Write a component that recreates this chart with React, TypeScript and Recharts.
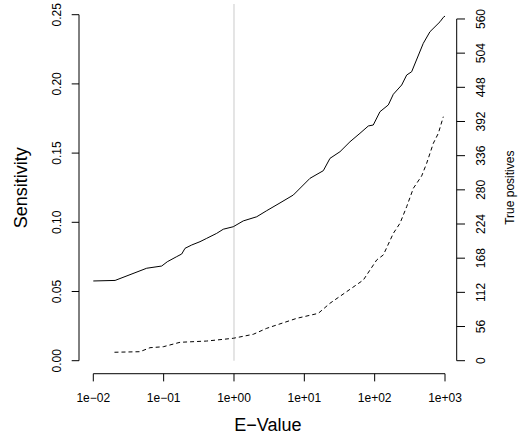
import React from 'react';
import { ComposedChart, Line, XAxis, YAxis, ReferenceLine, Label } from 'recharts';

// ---- data ----
const eValueTicks = [0.01, 0.1, 1, 10, 100, 1000];
const eValueTickLabels = ['1e\u221202', '1e\u221201', '1e+00', '1e+01', '1e+02', '1e+03'];
const sensitivityTicks = [0, 0.05, 0.1, 0.15, 0.2, 0.25];
const sensitivityTickLabels = ['0.00', '0.05', '0.10', '0.15', '0.20', '0.25'];
const truePositiveTicks = [0, 56, 112, 168, 224, 280, 336, 392, 448, 504, 560];

const solidEValue = [
  0.01, 0.0204, 0.0574, 0.0938, 0.1127, 0.1535, 0.1807, 0.2014, 0.2506, 0.3289,
  0.4093, 0.5675, 0.7047, 0.977, 1.355, 2.104, 2.917, 4.508, 6.966, 12.05,
  18.62, 23.17, 32.14, 44.57, 61.8, 81.28, 95.5, 118.9, 156.3, 184.1,
  242.1, 285.1, 335.7, 490.9, 610.9, 849.2, 946.2, 1000,
];
const solidSensitivity = [
  0.0576, 0.058, 0.0668, 0.0684, 0.0715, 0.0752, 0.0771, 0.0812, 0.0836, 0.086,
  0.0884, 0.092, 0.095, 0.0968, 0.101, 0.104, 0.1084, 0.114, 0.1197, 0.1318,
  0.1373, 0.1462, 0.151, 0.1582, 0.1643, 0.1696, 0.1703, 0.1799, 0.1848, 0.1925,
  0.1992, 0.2064, 0.2088, 0.2293, 0.2377, 0.2449, 0.2481, 0.249,
];

const dashedEValue = [
  0.02, 0.0461, 0.064, 0.0989, 0.171, 0.409, 0.977, 1.884, 2.917, 4.046,
  7.78, 15.78, 23.17, 40.0, 69.0, 106.9, 132.7, 184.1, 229.1, 285.1,
  354.8, 465.6, 548.3, 682.3, 803.5, 946.2,
];
const dashedSensitivity = [
  0.0061, 0.0065, 0.0094, 0.0101, 0.0133, 0.0142, 0.0162, 0.0191, 0.0234, 0.0258,
  0.0306, 0.0342, 0.0415, 0.0499, 0.0583, 0.0728, 0.0764, 0.092, 0.0993, 0.1113,
  0.1246, 0.1335, 0.1426, 0.1571, 0.1643, 0.1763,
];

const cutoffEValue = 1;

// ---- layout / style ----
const W = 518;
const H = 440;
const X_DOMAIN: [number, number] = [0.006262, 1466];
const Y_DOMAIN: [number, number] = [0, 0.25];
const TP_DOMAIN: [number, number] = [0, 567];
const AXIS_BELOW = -0.0094; // detached x-axis line (R style)
const GRAY_TOP = 0.2577;
const FONT = '"Liberation Sans", Arial, Helvetica, sans-serif';

const solidData = solidEValue.map((e, i) => ({ e, s: solidSensitivity[i] }));
const dashedData = dashedEValue.map((e, i) => ({ e, s: dashedSensitivity[i] }));

const XTick = (props: any) => {
  const { x, y, payload } = props;
  const idx = eValueTicks.indexOf(payload.value);
  const label = idx >= 0 ? eValueTickLabels[idx] : String(payload.value);
  return (
    <g>
      <line x1={x} x2={x} y1={y + 13} y2={y + 20.7} stroke="#000" strokeWidth={1} />
      <text x={x} y={y + 41.6} textAnchor="middle" fontSize={12} fontFamily={FONT} fill="#000">
        {label}
      </text>
    </g>
  );
};

const LeftTick = (props: any) => {
  const { x, y, payload } = props;
  const idx = sensitivityTicks.indexOf(payload.value);
  const label = idx >= 0 ? sensitivityTickLabels[idx] : String(payload.value);
  const bx = x - 10.5;
  return (
    <text x={bx} y={y} transform={`rotate(-90, ${bx}, ${y})`} textAnchor="middle" fontSize={12} fontFamily={FONT} fill="#000">
      {label}
    </text>
  );
};

const RightTick = (props: any) => {
  const { x, y, payload } = props;
  const bx = x + 19.6;
  return (
    <text x={bx} y={y} transform={`rotate(-90, ${bx}, ${y})`} textAnchor="middle" fontSize={12} fontFamily={FONT} fill="#000">
      {String(payload.value)}
    </text>
  );
};

const VerticalTitle = (text: string, dx: number, size: number) => (p: any) => {
  const vb = p.viewBox || {};
  const cx = vb.x + dx;
  const cy = vb.y + vb.height / 2;
  return (
    <text x={cx} y={cy} transform={`rotate(-90, ${cx}, ${cy})`} textAnchor="middle" fontSize={size} fontFamily={FONT} fill="#000">
      {text}
    </text>
  );
};

const XTitle = (p: any) => {
  const vb = p.viewBox || {};
  return (
    <text x={vb.x + vb.width / 2} y={vb.y + 70.3} textAnchor="middle" fontSize={18} fontFamily={FONT} fill="#000">
      E{'\u2212'}Value
    </text>
  );
};

export default function App() {
  return (
    <div style={{ position: 'absolute', left: 0, top: 0, width: W, height: H, background: '#fff' }}>
      <ComposedChart width={W} height={H} margin={{ top: 14.7, right: 0, bottom: 0, left: 0 }}>
        <XAxis
          xAxisId="x"
          dataKey="e"
          type="number"
          scale="log"
          domain={X_DOMAIN}
          allowDataOverflow
          ticks={eValueTicks}
          interval={0}
          height={79.3}
          axisLine={false}
          tickLine={false}
          tickSize={0}
          tickMargin={0}
          tick={<XTick />}
        >
          <Label content={XTitle} />
        </XAxis>
        <YAxis
          yAxisId="left"
          type="number"
          domain={Y_DOMAIN}
          allowDataOverflow
          ticks={sensitivityTicks}
          interval={0}
          width={79}
          axisLine={{ stroke: '#000', strokeWidth: 1 }}
          tickLine={{ stroke: '#000', strokeWidth: 1 }}
          tickSize={7.3}
          tickMargin={0}
          tick={<LeftTick />}
        >
          <Label content={VerticalTitle('Sensitivity', 27, 18)} />
        </YAxis>
        <YAxis
          yAxisId="right"
          orientation="right"
          type="number"
          domain={TP_DOMAIN}
          allowDataOverflow
          ticks={truePositiveTicks}
          interval={0}
          width={61.3}
          axisLine={false}
          tickLine={{ stroke: '#000', strokeWidth: 1 }}
          tickSize={8.3}
          tickMargin={0}
          tick={<RightTick />}
        >
          <Label content={VerticalTitle('True positives', 57.5, 12)} />
        </YAxis>

        <ReferenceLine
          xAxisId="x"
          yAxisId="left"
          segment={[{ x: cutoffEValue, y: 0 }, { x: cutoffEValue, y: GRAY_TOP }]}
          stroke="#d3d3d3"
          strokeWidth={1.2}
          ifOverflow="visible"
        />
        <ReferenceLine
          xAxisId="x"
          yAxisId="left"
          segment={[{ x: eValueTicks[0], y: AXIS_BELOW }, { x: eValueTicks[eValueTicks.length - 1], y: AXIS_BELOW }]}
          stroke="#000"
          strokeWidth={1}
          ifOverflow="visible"
        />
        <ReferenceLine
          xAxisId="x"
          yAxisId="right"
          segment={[{ x: X_DOMAIN[1], y: truePositiveTicks[0] }, { x: X_DOMAIN[1], y: truePositiveTicks[truePositiveTicks.length - 1] }]}
          stroke="#000"
          strokeWidth={1}
          ifOverflow="visible"
        />

        <Line
          xAxisId="x"
          yAxisId="left"
          data={solidData}
          dataKey="s"
          type="linear"
          stroke="#000"
          strokeWidth={1}
          dot={false}
          activeDot={false}
          isAnimationActive={false}
        />
        <Line
          xAxisId="x"
          yAxisId="left"
          data={dashedData}
          dataKey="s"
          type="linear"
          stroke="#000"
          strokeWidth={1}
          strokeDasharray="4 3"
          dot={false}
          activeDot={false}
          isAnimationActive={false}
        />
      </ComposedChart>
    </div>
  );
}
